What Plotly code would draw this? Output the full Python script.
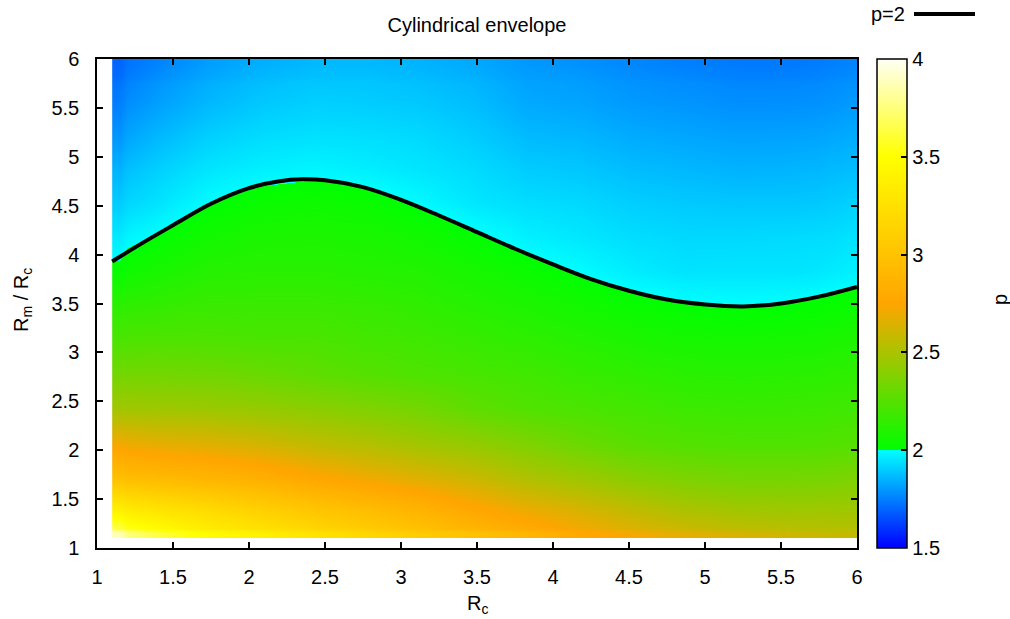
import numpy as np
import plotly.graph_objects as go

# Grid cell edges (R_c along x, R_m/R_c along y)
rc_edges = [1.1, 1.2, 1.55, 1.9, 2.25, 2.6, 2.95, 3.3, 3.65, 4.0, 4.35, 4.7, 5.05, 5.4, 5.75, 5.9, 6.0]
ratio_edges = [1.1, 1.2, 1.55, 1.9, 2.25, 2.6, 2.95, 3.3, 3.65, 4.0, 4.35, 4.7, 5.05, 5.4, 5.75, 5.9, 6.0]

# p per R_c column, listed from the bottom row (R_m/R_c = 1.15) to the top row (5.95)
p_col_01 = [3.88, 3.40, 2.96, 2.71, 2.48, 2.34, 2.22, 2.13, 2.02, 1.96, 1.90, 1.85, 1.79, 1.745, 1.71, 1.70]
p_col_02 = [3.65, 3.30, 2.92, 2.67, 2.47, 2.34, 2.23, 2.15, 2.07, 2.003, 1.943, 1.905, 1.856, 1.807, 1.773, 1.755]
p_col_03 = [3.47, 3.21, 2.88, 2.65, 2.46, 2.33, 2.23, 2.17, 2.11, 2.055, 1.996, 1.95, 1.905, 1.859, 1.826, 1.81]
p_col_04 = [3.38, 3.12, 2.83, 2.61, 2.44, 2.31, 2.22, 2.17, 2.12, 2.08, 2.030, 1.970, 1.93, 1.89, 1.86, 1.845]
p_col_05 = [3.27, 3.03, 2.76, 2.56, 2.41, 2.28, 2.22, 2.17, 2.12, 2.085, 2.041, 1.981, 1.94, 1.905, 1.877, 1.863]
p_col_06 = [3.17, 2.96, 2.70, 2.52, 2.38, 2.25, 2.20, 2.16, 2.11, 2.075, 2.026, 1.967, 1.935, 1.90, 1.877, 1.863]
p_col_07 = [3.07, 2.88, 2.65, 2.47, 2.34, 2.23, 2.185, 2.14, 2.10, 2.052, 1.992, 1.95, 1.925, 1.89, 1.865, 1.853]
p_col_08 = [2.98, 2.78, 2.59, 2.43, 2.28, 2.21, 2.16, 2.11, 2.068, 2.013, 1.953, 1.93, 1.90, 1.87, 1.845, 1.833]
p_col_09 = [2.89, 2.70, 2.51, 2.37, 2.24, 2.19, 2.135, 2.086, 2.031, 1.972, 1.935, 1.90, 1.865, 1.83, 1.81, 1.80]
p_col_10 = [2.78, 2.64, 2.46, 2.31, 2.22, 2.16, 2.11, 2.055, 1.996, 1.955, 1.925, 1.89, 1.855, 1.82, 1.80, 1.785]
p_col_11 = [2.72, 2.57, 2.40, 2.26, 2.20, 2.14, 2.082, 2.025, 1.965, 1.935, 1.905, 1.87, 1.835, 1.80, 1.778, 1.765]
p_col_12 = [2.67, 2.51, 2.36, 2.24, 2.18, 2.12, 2.065, 2.007, 1.947, 1.925, 1.895, 1.86, 1.825, 1.79, 1.765, 1.75]
p_col_13 = [2.63, 2.48, 2.34, 2.23, 2.17, 2.115, 2.058, 1.999, 1.95, 1.925, 1.89, 1.85, 1.815, 1.778, 1.752, 1.74]
p_col_14 = [2.60, 2.47, 2.34, 2.23, 2.175, 2.12, 2.065, 2.008, 1.948, 1.93, 1.89, 1.855, 1.818, 1.78, 1.752, 1.739]
p_col_15 = [2.58, 2.47, 2.35, 2.24, 2.185, 2.13, 2.078, 2.021, 1.962, 1.935, 1.90, 1.865, 1.828, 1.79, 1.765, 1.75]
p_col_16 = [2.58, 2.47, 2.36, 2.245, 2.19, 2.135, 2.085, 2.030, 1.970, 1.945, 1.91, 1.87, 1.835, 1.80, 1.772, 1.76]

# The p = 2 envelope line
envelope_rc = [1.1, 1.3, 1.5, 1.75, 2.0, 2.2, 2.35, 2.5, 2.75, 3.0, 3.25, 3.5, 3.75, 4.0,
               4.25, 4.5, 4.75, 5.0, 5.25, 5.5, 5.75, 6.0]
envelope_ratio = [3.93, 4.12, 4.30, 4.52, 4.68, 4.75, 4.77, 4.76, 4.69, 4.56, 4.40, 4.23, 4.06, 3.90,
                  3.75, 3.63, 3.54, 3.49, 3.47, 3.50, 3.57, 3.67]

cbar_ticks = [1.5, 2, 2.5, 3, 3.5, 4]
cbar_labels = ["1.5", "2", "2.5", "3", "3.5", "4"]

p_grid = np.array([p_col_01, p_col_02, p_col_03, p_col_04, p_col_05, p_col_06, p_col_07, p_col_08,
                   p_col_09, p_col_10, p_col_11, p_col_12, p_col_13, p_col_14, p_col_15, p_col_16]).T

P_MIN, P_MAX = 1.5, 4.0

# blue->cyan below p=2, then green->orange->yellow->white above
scale = [
    [0.0, "rgb(0,0,255)"],
    [0.2, "rgb(0,255,255)"],
    [0.2, "rgb(0,255,0)"],
    [0.5, "rgb(255,165,0)"],
    [0.8, "rgb(255,255,0)"],
    [1.0, "rgb(255,255,245)"],
]

FONT = "Liberation Sans"
FS = 20
W, H = 1010, 619
L, R, T, B = 97, 857, 59, 548
CB_L, CB_R = 877, 907


def px(x):
    return (x - L) / (R - L)


def py(y):
    return (B - y) / (B - T)


fig = go.Figure()
fig.add_trace(go.Heatmap(
    x=rc_edges, y=ratio_edges, z=p_grid,
    zmin=P_MIN, zmax=P_MAX, zsmooth="best", colorscale=scale,
    colorbar=dict(
        x=px(CB_L), xanchor="left", y=0.5, yanchor="middle", xpad=0, ypad=0,
        len=1.0, lenmode="fraction", thickness=CB_R - CB_L, thicknessmode="pixels",
        outlinewidth=1.5, outlinecolor="black",
        ticks="inside", ticklen=6, tickwidth=1.5, tickcolor="black",
        tickvals=cbar_ticks, ticktext=cbar_labels,
        tickfont=dict(family=FONT, size=FS, color="black"),
    ),
    hoverinfo="skip",
))
fig.add_trace(go.Scatter(
    x=envelope_rc, y=envelope_ratio, mode="lines",
    line=dict(color="black", width=4, shape="spline", smoothing=1.0),
    showlegend=False, hoverinfo="skip",
))

axis_common = dict(
    range=[1, 6], dtick=0.5, tick0=1, ticks="inside", ticklen=6, tickwidth=1.5,
    tickcolor="black", mirror="ticks", showline=True, linecolor="black", linewidth=1.5,
    showgrid=False, zeroline=False, tickfont=dict(family=FONT, size=FS, color="black"),
)
fig.update_xaxes(**axis_common, ticklabelstandoff=10)
fig.update_yaxes(**axis_common, ticklabelstandoff=12)

# short tick marks on the left edge of the colour bar as well
cb_shapes = []
for v in cbar_ticks[1:-1]:
    yy = (v - P_MIN) / (P_MAX - P_MIN)
    cb_shapes.append(dict(type="line", xref="paper", yref="paper",
                          x0=px(CB_L), x1=px(CB_L + 6), y0=yy, y1=yy,
                          line=dict(color="black", width=1.5)))

fig.update_layout(
    width=W, height=H,
    margin=dict(l=L, r=W - R, t=T, b=H - B),
    paper_bgcolor="white", plot_bgcolor="white",
    title=dict(text="Cylindrical envelope", x=0.5, xref="paper", xanchor="center",
               y=1 - 25 / H, yanchor="middle", yref="container",
               font=dict(family=FONT, size=FS, color="black")),
    showlegend=False,
    annotations=[
        dict(text="R<sub>c</sub>", x=0.5, y=py(604), xref="paper", yref="paper",
             showarrow=False, xanchor="center", yanchor="middle",
             font=dict(family=FONT, size=FS, color="black")),
        dict(text="R<sub>m</sub> / R<sub>c</sub>", x=px(22), y=py(300), xref="paper", yref="paper",
             showarrow=False, textangle=-90, xanchor="center", yanchor="middle",
             font=dict(family=FONT, size=FS, color="black")),
        dict(text="p", x=px(1000), y=py(300), xref="paper", yref="paper",
             showarrow=False, textangle=-90, xanchor="center", yanchor="middle",
             font=dict(family=FONT, size=FS, color="black")),
        dict(text="p=2", x=px(907), y=py(14), xref="paper", yref="paper",
             showarrow=False, xanchor="right", yanchor="middle",
             font=dict(family=FONT, size=FS, color="black")),
    ],
    shapes=[
        dict(type="line", xref="paper", yref="paper", x0=px(914), x1=px(975),
             y0=py(14), y1=py(14), line=dict(color="black", width=4)),
    ] + cb_shapes,
)

fig.write_html("out.html")
